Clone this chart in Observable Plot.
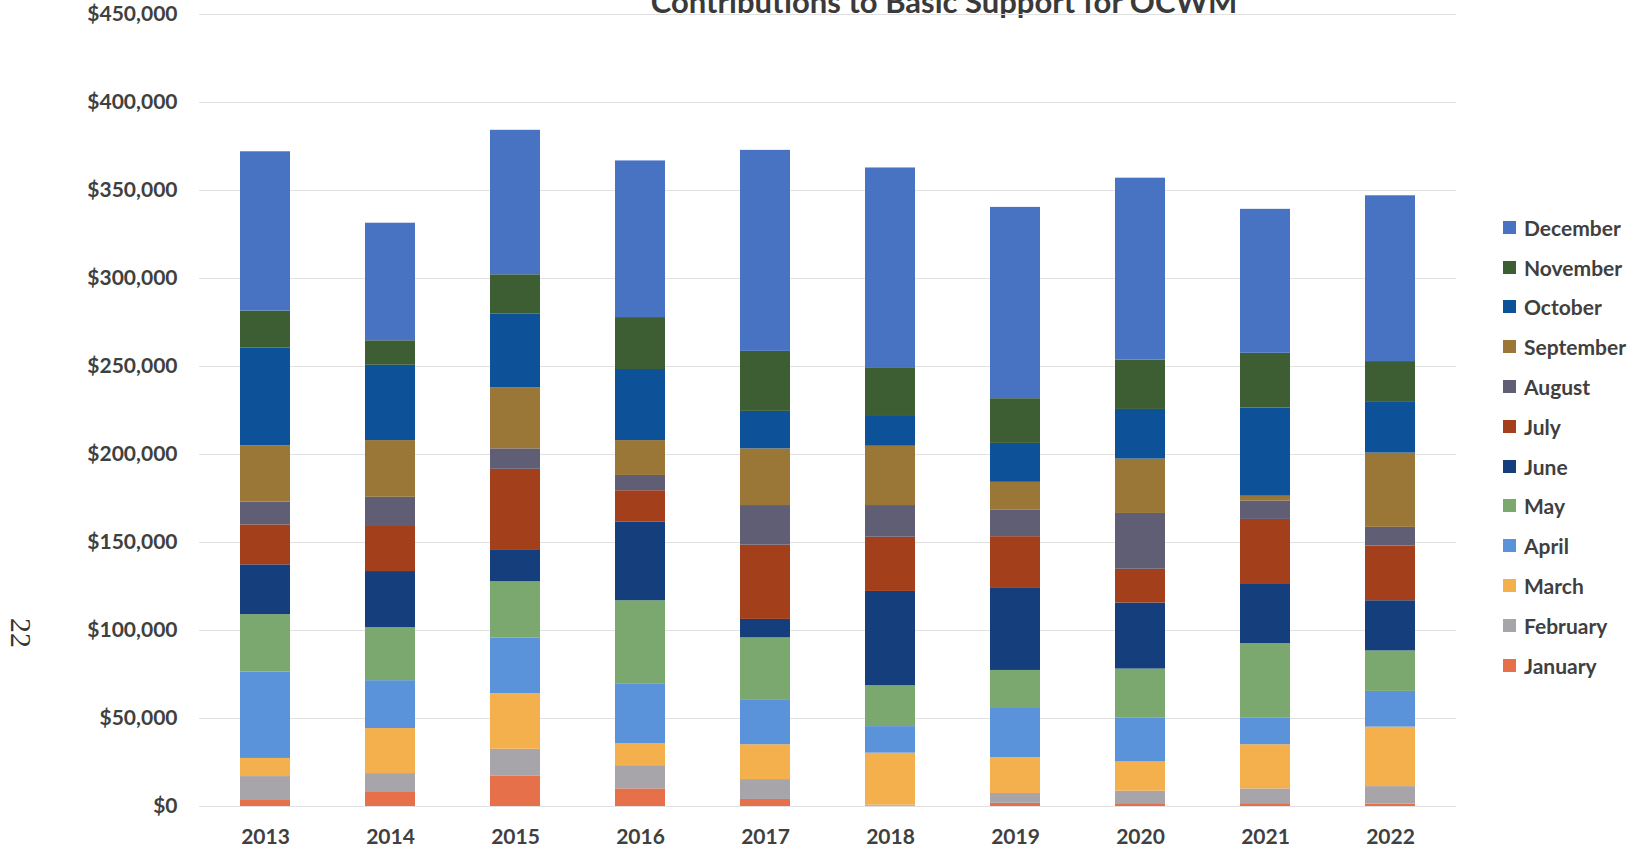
<!DOCTYPE html>
<html>
<head>
<meta charset="utf-8">
<script src="https://cdn.jsdelivr.net/npm/d3@7"></script>
<script src="https://cdn.jsdelivr.net/npm/@observablehq/plot@0.6"></script>
<style>
  html, body { margin: 0; padding: 0; background: #fff; overflow: hidden; }
  #wrap { position: relative; width: 1643px; height: 851px; font-family: Lato, "Open Sans", sans-serif; color: #404040; }
  #chart { position: absolute; left: 0; top: 0; }
  #title { position: absolute; left: 0; width: 1888px; top: -15px; text-align: center; font-size: 31px; line-height: 32px; font-weight: 700; color: #3a3a3a; white-space: nowrap; }
  #page { position: absolute; left: 6px; top: 618px; font-size: 30px; line-height: 30px; color: #333; transform: rotate(90deg); transform-origin: 50% 50%; font-family: "Liberation Serif", serif; }
  #legend { position: absolute; left: 1503px; top: 207.5px; width: 127px; overflow: hidden; white-space: nowrap; }
  .li { height: 39.8px; display: flex; align-items: center; font-size: 21px; font-weight: 700; color: #404040; }
  .sw { width: 13px; height: 13px; margin-right: 8px; flex: none; }
</style>
</head>
<body>
<div id="wrap">
  <div id="title">Contributions to Basic Support for OCWM</div>
  <div id="chart"></div>
  <div id="page">22</div>
  <div id="legend"></div>
</div>
<script>
const years = ["2013", "2014", "2015", "2016", "2017", "2018", "2019", "2020", "2021", "2022"];
const months = ["January", "February", "March", "April", "May", "June", "July", "August", "September", "October", "November", "December"];
const monthColors = ["#E5704A", "#A8A5AA", "#F5B04E", "#5B93DA", "#7BA86E", "#143F7C", "#A43F1C", "#5F5E75", "#9A7737", "#0D5298", "#3D5E33", "#4872C2"];

// monthly contributions per year (2013..2022), in dollars
const january   = [3400, 8400, 17400, 10000, 4000, 300, 1800, 1600, 1600, 1300];
const february  = [13600, 10300, 15100, 13200, 11300, 500, 5600, 7100, 8400, 10000];
const march     = [10300, 25600, 31600, 12400, 19800, 29500, 20300, 16600, 25100, 33800];
const april     = [49000, 27200, 31700, 33800, 25600, 15100, 28000, 25100, 15300, 20300];
const may       = [32700, 30100, 31900, 47500, 35100, 23200, 21600, 27700, 42200, 23000];
const june      = [28300, 31900, 18200, 44800, 10500, 53600, 47000, 37500, 34000, 28500];
const july      = [22700, 25600, 45700, 17700, 42200, 30800, 29000, 19200, 36500, 31100];
const august    = [13000, 16600, 11600, 8700, 22500, 18000, 15000, 31700, 10500, 10600];
const september = [31900, 32200, 34800, 19800, 32200, 33700, 15900, 30900, 2700, 42200];
const october   = [55500, 42800, 41700, 40400, 21300, 16900, 22100, 28200, 50100, 28800];
const november  = [21100, 13900, 22400, 29500, 34100, 27700, 25400, 28000, 31100, 23200];
const december  = [90500, 66800, 82100, 89000, 114200, 113500, 108700, 103400, 81800, 94200];

const yTicks = [0, 50000, 100000, 150000, 200000, 250000, 300000, 350000, 400000, 450000];

const series = [january, february, march, april, may, june, july, august, september, october, november, december];
const rows = [];
years.forEach((yr, i) => {
  months.forEach((m, j) => rows.push({year: yr, month: m, value: series[j][i]}));
});

const fmt = d3.format(",");
const chart = Plot.plot({
  width: 1643,
  height: 851,
  marginLeft: 199,
  marginRight: 187,
  marginTop: 14,
  marginBottom: 45,
  style: {fontFamily: 'Lato, "Open Sans", sans-serif', fontSize: "21px", fontWeight: 700, color: "#404040", background: "transparent"},
  x: {domain: years, paddingInner: 0.6, paddingOuter: 0.3, label: null, tickSize: 0, tickPadding: 23},
  y: {domain: [0, 450000], ticks: yTicks, tickFormat: d => "$" + fmt(d), label: null, tickSize: 0, tickPadding: 22},
  color: {domain: months, range: monthColors},
  marks: [
    Plot.gridY(yTicks, {stroke: "#e0e0e0", strokeOpacity: 1}),
    Plot.barY(rows, {x: "year", y: "value", fill: "month"})
  ]
});
document.getElementById("chart").appendChild(chart);

const legend = document.getElementById("legend");
months.slice().reverse().forEach(m => {
  const li = document.createElement("div");
  li.className = "li";
  const sw = document.createElement("span");
  sw.className = "sw";
  sw.style.background = monthColors[months.indexOf(m)];
  li.appendChild(sw);
  li.appendChild(document.createTextNode(m));
  legend.appendChild(li);
});
</script>
</body>
</html>
